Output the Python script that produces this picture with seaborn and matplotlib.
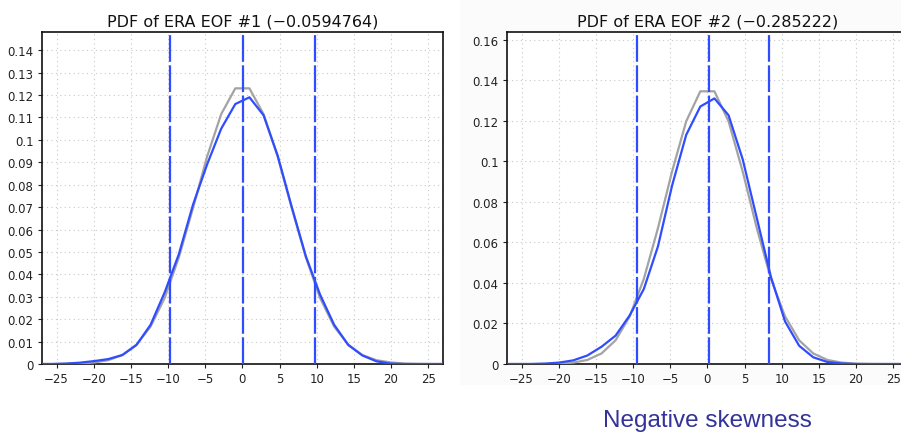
import numpy as np
import pandas as pd
import seaborn as sns
import matplotlib.pyplot as plt
from matplotlib.patches import Rectangle

# bin centres of the PDFs
bins = [-27.55, -25.65, -23.75, -21.85, -19.95, -18.05, -16.15, -14.25, -12.35, -10.45,
        -8.55, -6.65, -4.75, -2.85, -0.95, 0.95, 2.85, 4.75, 6.65, 8.55,
        10.45, 12.35, 14.25, 16.15, 18.05, 19.95, 21.85, 23.75, 25.65, 27.55]

# EOF #1: ERA (blue) and gaussian fit (grey)
eof1_era = [0, 0, 0.0002, 0.0006, 0.0013, 0.0022, 0.0040, 0.0085, 0.0175, 0.032,
            0.049, 0.071, 0.089, 0.105, 0.116, 0.119, 0.111, 0.093, 0.070, 0.048,
            0.031, 0.0175, 0.0085, 0.0038, 0.0012, 0.0002, 0, 0, 0, 0]
eof1_fit = [0, 0, 0.00005, 0.0002, 0.0007, 0.0017, 0.0040, 0.0086, 0.0167, 0.0295,
            0.0475, 0.0695, 0.0925, 0.1115, 0.123, 0.123, 0.1115, 0.0925, 0.0695, 0.0475,
            0.0295, 0.0167, 0.0086, 0.0040, 0.0017, 0.0007, 0.0002, 0.00005, 0, 0]
eof1_lines = [-9.8, 0.03, 9.8]

# EOF #2
eof2_era = [0, 0, 0, 0.0002, 0.0007, 0.0018, 0.0042, 0.0085, 0.014, 0.024,
            0.037, 0.058, 0.088, 0.113, 0.127, 0.131, 0.1227, 0.101, 0.072, 0.043,
            0.021, 0.009, 0.0033, 0.001, 0.0003, 0, 0, 0, 0, 0]
eof2_fit = [0, 0, 0, 0.00005, 0.0002, 0.0007, 0.0020, 0.0052, 0.0117, 0.0235,
            0.042, 0.067, 0.095, 0.1197, 0.1345, 0.1345, 0.1197, 0.095, 0.067, 0.042,
            0.0235, 0.0117, 0.0052, 0.0020, 0.0007, 0.0002, 0.00005, 0, 0, 0]
eof2_lines = [-9.5, 0.2, 8.3]

titles = ['PDF of ERA EOF #1 (\u22120.0594764)', 'PDF of ERA EOF #2 (\u22120.285222)']

sns.set_style('white')
plt.rcParams['font.family'] = ['DejaVu Sans']

blue = '#2f4dff'
grey = '#a3a3a3'

fig = plt.figure(figsize=(9.01, 4.35), dpi=100)
# faint backdrop behind the right picture
fig.patches.append(Rectangle((460 / 901, 50 / 435), 441 / 901, 385 / 435,
                             transform=fig.transFigure, color='#fbfbfb', zorder=-5))

ax1 = fig.add_axes([0.0463, 0.1609, 0.4454, 0.7625])
ax2 = fig.add_axes([0.5624, 0.1609, 0.4454, 0.7625])

panels = [(ax1, eof1_era, eof1_fit, eof1_lines, 0.148, np.arange(0, 0.141, 0.01), titles[0]),
          (ax2, eof2_era, eof2_fit, eof2_lines, 0.1636, np.arange(0, 0.161, 0.02), titles[1])]

for ax, era, fit, vlines, ytop, yticks, title in panels:
    df = pd.DataFrame({'x': bins, 'era': era, 'fit': fit})
    ax.set_facecolor('white')
    sns.lineplot(data=df, x='x', y='fit', color=grey, lw=1.6, ax=ax, zorder=3)
    sns.lineplot(data=df, x='x', y='era', color=blue, lw=1.6, ax=ax, zorder=4)
    for v in vlines:
        ax.axvline(v, color=blue, lw=1.6, dashes=(12, 1.6), zorder=5)
    ax.set_xlim(-27, 27)
    ax.set_ylim(0, ytop)
    ax.set_xticks(np.arange(-25, 26, 5))
    ax.set_yticks(yticks)
    ax.set_yticklabels(['0' if t == 0 else f'{t:g}' for t in yticks])
    ax.grid(True, color='#c8c8c8', ls=(0, (1, 3)), lw=0.8)
    ax.tick_params(axis='both', labelsize=8.5, length=3, width=0.8, colors='#222222',
                   direction='out', bottom=True, left=True, pad=3)
    ax.set_xlabel('')
    ax.set_ylabel('')
    ax.set_title(title, fontsize=11.5, pad=5, color='#111111')
    for s in ax.spines.values():
        s.set_color('#111111')
        s.set_linewidth(1.2)

fig.text(707 / 901, 1 - 421 / 435, 'Negative skewness', fontsize=17.5, color='#333399',
         family=['Liberation Sans', 'DejaVu Sans'], ha='center', va='center')

fig.savefig('out.png', dpi=100)
